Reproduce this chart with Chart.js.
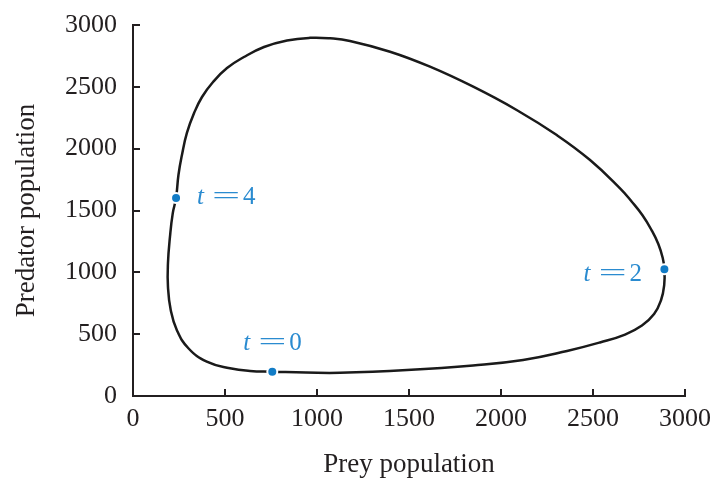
<!DOCTYPE html>
<html><head><meta charset="utf-8">
<style>html,body{margin:0;padding:0;background:#fff}#wrap{width:715px;height:478px}</style>
<script src="https://cdn.jsdelivr.net/npm/chart.js@4/dist/chart.umd.min.js"></script>
</head><body><div id="wrap"><canvas id="c" width="715" height="478"></canvas></div>
<script>
// Orbit (prey, predator), starting at t = 0
const preyValues = [757,940,1125,1489,1848,2120,2359,2538,2674,2766,2832,2870,2887,2888,2879,2855,2818,2769,2712,2647,2484,2303,2085,1849,1614,1397,1179,1071,962,837,712,603,511,435,375,332,293,266,247,234,216,201,190,190,205,238,301,401,527,636,757];
const predatorValues = [196,190,188,210,247,291,364,433,497,570,663,776,898,1025,1116,1229,1342,1461,1569,1679,1908,2110,2313,2501,2663,2784,2871,2892,2896,2875,2822,2741,2652,2539,2418,2288,2127,1949,1787,1601,1477,1288,1073,884,695,534,386,277,224,202,196];
// Marked times
const markedTimes = ['0', '2', '4'];
const markedPrey = [757, 2888, 234];
const markedPredator = [196, 1025, 1601];
// Tick labels
const xTicks = [0, 500, 1000, 1500, 2000, 2500, 3000];
const yTicks = [0, 500, 1000, 1500, 2000, 2500, 3000];

const INK = '#231f20';
const BLUE_TXT = '#2a8bd0';
const BLUE_DOT = '#127cc6';
const SERIF = "'Liberation Serif', 'Times New Roman', serif";

const orbit = preyValues.map((v, i) => ({x: v, y: predatorValues[i]}));
const marks = markedPrey.map((v, i) => ({x: v, y: markedPredator[i]}));

// label placement relative to the marker (pixels): ink-left offset and baseline offset
const labelPlace = {'0': [-29, -22], '2': [-81, 12], '4': [21, 6]};

const labelPlugin = {
  id: 'tLabels',
  afterDatasetsDraw(chart) {
    const ctx = chart.ctx;
    const xs = chart.scales.x, ys = chart.scales.y;
    ctx.save();
    ctx.fillStyle = BLUE_TXT;
    ctx.textBaseline = 'alphabetic';
    ctx.textAlign = 'left';
    markedTimes.forEach((t, i) => {
      const px = xs.getPixelForValue(markedPrey[i]);
      const py = ys.getPixelForValue(markedPredator[i]);
      const [dx, dy] = labelPlace[t];
      const x0 = px + dx, base = py + dy;
      ctx.font = 'italic 25px ' + SERIF;
      ctx.fillText('t', x0, base);
      ctx.font = '25px ' + SERIF;
      const m = ctx.measureText('=');
      const ink = m.actualBoundingBoxLeft + m.actualBoundingBoxRight;
      const sx = 24 / ink;
      ctx.save();
      ctx.translate(x0 + 17, base);
      ctx.scale(sx, 1);
      ctx.fillText('=', m.actualBoundingBoxLeft, 0);
      ctx.restore();
      ctx.font = '25px ' + SERIF;
      ctx.fillText(t, x0 + 46, base);
    });
    ctx.restore();
  }
};

const fmt = v => String(v);
const noPad = s => { s.paddingTop = 0; s.paddingBottom = 0; s.paddingLeft = 0; s.paddingRight = 0; };

new Chart(document.getElementById('c'), {
  type: 'scatter',
  data: {
    datasets: [
      {
        data: orbit,
        showLine: true,
        borderColor: '#1a1a1a',
        borderWidth: 2.5,
        tension: 0.45,
        pointRadius: 0,
        fill: false,
        order: 2
      },
      {
        data: marks,
        showLine: false,
        pointRadius: 5,
        pointBackgroundColor: BLUE_DOT,
        pointBorderColor: '#ffffff',
        pointBorderWidth: 2,
        order: 1
      }
    ]
  },
  options: {
    responsive: false,
    animation: false,
    devicePixelRatio: 1,
    layout: {padding: {left: 0, top: 25, right: 30, bottom: 0}},
    plugins: {legend: {display: false}, tooltip: {enabled: false}},
    scales: {
      x: {
        type: 'linear', min: 0, max: 3000,
        afterBuildTicks: s => { s.ticks = xTicks.map(v => ({value: v})); },
        afterFit: s => { s.height = 82; noPad(s); },
        ticks: {callback: fmt, color: INK, font: {family: SERIF, size: 26}, padding: 15, maxRotation: 0},
        grid: {drawOnChartArea: false, drawTicks: true, tickLength: -7, color: INK, lineWidth: 2},
        border: {display: true, color: INK, width: 2},
        title: {display: true, text: 'Prey population', color: INK, font: {family: SERIF, size: 27}, padding: {top: 0, bottom: -3}}
      },
      y: {
        type: 'linear', min: 0, max: 3000,
        afterBuildTicks: s => { s.ticks = yTicks.map(v => ({value: v})); },
        afterFit: s => { s.width = 133; noPad(s); },
        ticks: {callback: fmt, color: INK, font: {family: SERIF, size: 26}, padding: 23},
        grid: {drawOnChartArea: false, drawTicks: true, tickLength: -7, color: INK, lineWidth: 2},
        border: {display: true, color: INK, width: 2},
        title: {display: true, text: 'Predator population', color: INK, font: {family: SERIF, size: 27}, padding: {top: 11, bottom: 0}}
      }
    }
  },
  plugins: [labelPlugin]
});
</script>
</body></html>
